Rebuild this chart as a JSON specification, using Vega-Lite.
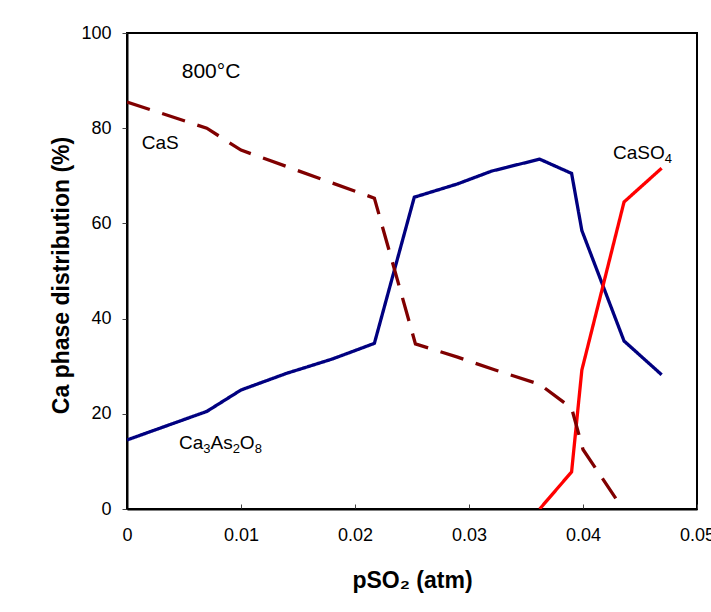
{
  "$schema": "https://vega.github.io/schema/vega-lite/v6.json",
  "autosize": "none",
  "width": 570,
  "height": 476,
  "padding": {"left": 127, "top": 33, "right": 14, "bottom": 103},
  "background": "white",
  "config": {
    "font": "Liberation Sans",
    "view": {"stroke": "black", "strokeWidth": 2},
    "axis": {"grid": false, "labelFlush": false, "domainColor": "black", "domainWidth": 2, "tickColor": "#444", "labelColor": "black", "titleColor": "black", "labelFont": "Liberation Sans", "titleFont": "Liberation Sans", "labelFontSize": 18, "titleFontSize": 23, "titleFontWeight": "bold"}
  },
  "datasets": {
    "lines": [
      {"phase": "Ca3As2O8", "pso2": 0, "pct": 14.5},
      {"phase": "Ca3As2O8", "pso2": 0.007, "pct": 20.5},
      {"phase": "Ca3As2O8", "pso2": 0.01, "pct": 25},
      {"phase": "Ca3As2O8", "pso2": 0.014, "pct": 28.5},
      {"phase": "Ca3As2O8", "pso2": 0.018, "pct": 31.5},
      {"phase": "Ca3As2O8", "pso2": 0.0217, "pct": 34.8},
      {"phase": "Ca3As2O8", "pso2": 0.0252, "pct": 65.5},
      {"phase": "Ca3As2O8", "pso2": 0.029, "pct": 68.3},
      {"phase": "Ca3As2O8", "pso2": 0.032, "pct": 71},
      {"phase": "Ca3As2O8", "pso2": 0.0362, "pct": 73.5},
      {"phase": "Ca3As2O8", "pso2": 0.039, "pct": 70.5},
      {"phase": "Ca3As2O8", "pso2": 0.0399, "pct": 58.5},
      {"phase": "Ca3As2O8", "pso2": 0.0436, "pct": 35.3},
      {"phase": "Ca3As2O8", "pso2": 0.0469, "pct": 28.2},
      {"phase": "CaSO4", "pso2": 0.0362, "pct": 0},
      {"phase": "CaSO4", "pso2": 0.039, "pct": 7.8},
      {"phase": "CaSO4", "pso2": 0.0399, "pct": 29.2},
      {"phase": "CaSO4", "pso2": 0.0436, "pct": 64.5},
      {"phase": "CaSO4", "pso2": 0.0469, "pct": 71.6},
      {"phase": "CaS", "pso2": 0, "pct": 85.5},
      {"phase": "CaS", "pso2": 0.007, "pct": 80},
      {"phase": "CaS", "pso2": 0.01, "pct": 75.4},
      {"phase": "CaS", "pso2": 0.0217, "pct": 65.3},
      {"phase": "CaS", "pso2": 0.0253, "pct": 34.7},
      {"phase": "CaS", "pso2": 0.029, "pct": 31.9},
      {"phase": "CaS", "pso2": 0.0323, "pct": 29.2},
      {"phase": "CaS", "pso2": 0.0362, "pct": 26.2},
      {"phase": "CaS", "pso2": 0.039, "pct": 21.2},
      {"phase": "CaS", "pso2": 0.04, "pct": 12.5},
      {"phase": "CaS", "pso2": 0.0435, "pct": 0}
    ],
    "labels": [
      {"text": "800°C", "pso2": 0.0048, "pct": 91.8, "size": 21},
      {"text": "CaS", "pso2": 0.0013, "pct": 76.9, "size": 19},
      {"text": "CaSO", "pso2": 0.04263, "pct": 74.8, "size": 19},
      {"text": "Ca", "pso2": 0.00456, "pct": 13.9, "size": 19},
      {"text": "As", "pso2": 0.00733, "pct": 13.9, "size": 19},
      {"text": "O", "pso2": 0.0099, "pct": 13.9, "size": 19}
    ],
    "subs": [
      {"text": "4", "pso2": 0.04717, "pct": 74.8},
      {"text": "3", "pso2": 0.00669, "pct": 13.9},
      {"text": "2", "pso2": 0.00927, "pct": 13.9},
      {"text": "8", "pso2": 0.0112, "pct": 13.9}
    ]
  },
  "layer": [
    {
      "data": {"name": "lines"},
      "mark": {"type": "line", "strokeWidth": 3.3, "clip": true},
      "encoding": {
        "x": {"field": "pso2", "type": "quantitative", "scale": {"domain": [0, 0.05], "nice": false, "zero": false},
          "axis": {"title": "pSO₂ (atm)", "values": [0, 0.01, 0.02, 0.03, 0.04, 0.05], "format": "~g", "tickSize": -5, "labelPadding": 22, "titleY": 78, "titleBaseline": "alphabetic"}},
        "y": {"field": "pct", "type": "quantitative", "scale": {"domain": [0, 100], "nice": false},
          "axis": {"title": "Ca phase distribution (%)", "values": [0, 20, 40, 60, 80, 100], "tickSize": 5, "labelPadding": 11, "titleX": -54, "titleY": 242, "titleBaseline": "bottom"}},
        "color": {"field": "phase", "type": "nominal", "scale": {"domain": ["CaS", "Ca3As2O8", "CaSO4"], "range": ["#800000", "#000080", "#ff0000"]}, "legend": null},
        "strokeDash": {"field": "phase", "type": "nominal", "scale": {"domain": ["CaS", "Ca3As2O8", "CaSO4"], "range": [[24, 13], [1, 0], [1, 0]]}, "legend": null}
      }
    },
    {
      "data": {"name": "labels"},
      "mark": {"type": "text", "font": "Liberation Sans", "color": "black", "baseline": "middle", "align": "left"},
      "encoding": {
        "x": {"field": "pso2", "type": "quantitative"},
        "y": {"field": "pct", "type": "quantitative"},
        "text": {"field": "text"},
        "size": {"field": "size", "type": "quantitative", "scale": null}
      }
    },
    {
      "data": {"name": "subs"},
      "mark": {"type": "text", "font": "Liberation Sans", "color": "black", "baseline": "middle", "align": "left", "fontSize": 13, "dy": 6},
      "encoding": {
        "x": {"field": "pso2", "type": "quantitative"},
        "y": {"field": "pct", "type": "quantitative"},
        "text": {"field": "text"}
      }
    }
  ]
}
